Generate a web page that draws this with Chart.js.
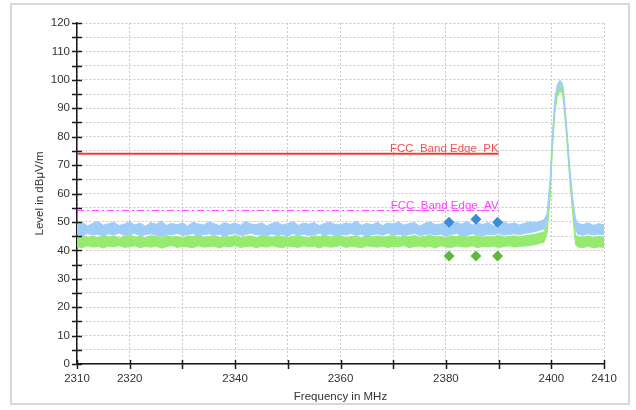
<!DOCTYPE html>
<html>
<head>
<meta charset="utf-8">
<script src="https://cdn.jsdelivr.net/npm/chart.js@4.4.1/dist/chart.umd.min.js"></script>
<style>
body { margin: 0; background: #fff; }
#frame { position: absolute; left: 10px; top: 3px; width: 620px; height: 402px; border: 2px solid #d8d8d8; box-sizing: border-box; }
#wrap { position: absolute; left: 0; top: 0; width: 636px; height: 410px; }
</style>
</head>
<body>
<div id="frame"></div>
<div id="wrap"><canvas id="myChart" width="636" height="410"></canvas></div>
<script>
// frequency points of the traces (MHz)
var freq = [2310, 2311, 2312, 2313, 2314, 2315, 2316, 2317, 2318, 2319,
	2320, 2321, 2322, 2323, 2324, 2325, 2326, 2327, 2328, 2329,
	2330, 2331, 2332, 2333, 2334, 2335, 2336, 2337, 2338, 2339,
	2340, 2341, 2342, 2343, 2344, 2345, 2346, 2347, 2348, 2349,
	2350, 2351, 2352, 2353, 2354, 2355, 2356, 2357, 2358, 2359,
	2360, 2361, 2362, 2363, 2364, 2365, 2366, 2367, 2368, 2369,
	2370, 2371, 2372, 2373, 2374, 2375, 2376, 2377, 2378, 2379,
	2380, 2381, 2382, 2383, 2384, 2385, 2386, 2387, 2388, 2389,
	2390, 2391, 2392, 2393, 2394, 2395, 2396, 2397, 2398,
	2398.6, 2399.2, 2399.8, 2400.2, 2400.7, 2401.1, 2401.6, 2402.0, 2402.3, 2402.9,
	2403.5, 2404.2, 2404.6, 2405, 2406, 2407, 2408, 2409, 2410];

// peak trace (blue), upper / lower edge of the noise band
var peakHi = [49.1, 49.8, 48.6, 49.5, 50.2, 48.8, 49.4, 49.9, 48.7, 49.3,
	50.1, 48.9, 49.6, 48.5, 49.8, 49.2, 50.3, 48.8, 49.5, 49.0,
	49.7, 48.6, 49.9, 49.3, 48.9, 50.0, 49.4, 48.7, 49.8, 49.1,
	49.6, 48.8, 50.2, 49.3, 49.0, 49.7, 48.6, 49.5, 49.9, 48.9,
	49.4, 50.1, 48.8, 49.6, 49.2, 49.8, 48.7, 49.5, 50.0, 49.1,
	48.9, 49.7, 49.3, 50.2, 48.8, 49.5, 49.0, 49.9, 48.7, 49.6,
	49.2, 50.0, 48.9, 49.4, 49.8, 48.6, 49.5, 50.1, 49.0, 49.3,
	49.7, 48.8, 49.9, 49.2, 50.3, 48.9, 49.6, 49.1, 49.8, 48.7,
	49.5, 50.0, 49.2, 49.7, 48.9, 49.6, 50.0, 49.8, 50.3,
	50.8, 53, 66, 81, 93.8, 98.2, 99.8, 99.2, 97.2, 84.3,
	69.2, 56.2, 51.2, 49.6, 49.0, 49.7, 48.8, 49.4, 48.9];
var peakLo = [45.6, 45.1, 45.9, 45.3, 45.7, 45.0, 45.8, 45.4, 46.1, 45.2,
	45.6, 45.9, 45.1, 45.5, 45.8, 45.3, 45.0, 45.7, 45.4, 46.0,
	45.2, 45.6, 45.9, 45.1, 45.5, 45.8, 45.3, 45.7, 45.0, 45.6,
	45.9, 45.2, 45.5, 46.1, 45.4, 45.7, 45.1, 45.8, 45.3, 45.6,
	45.0, 45.9, 45.4, 45.7, 45.2, 45.5, 46.0, 45.3, 45.8, 45.1,
	45.6, 45.4, 45.9, 45.2, 45.7, 45.0, 45.5, 45.8, 45.3, 46.0,
	45.4, 45.7, 45.1, 45.6, 45.9, 45.2, 45.5, 45.8, 45.3, 45.7,
	45.0, 45.6, 45.9, 45.4, 45.2, 45.8, 45.5, 45.1, 45.7, 45.4,
	45.9, 45.3, 45.6, 45.8, 45.5, 46.0, 46.2, 46.6, 47.2,
	47.5, 50.5, 63.5, 78.5, 91.5, 96.5, 98.2, 97.5, 95, 82,
	67, 54, 47.5, 45.6, 45.3, 45.8, 45.4, 45.7, 45.5];

// average trace (green)
var avgHi = [44.8, 45.3, 44.5, 45.0, 44.4, 45.4, 44.7, 45.1, 44.3, 44.9,
	45.5, 44.6, 45.0, 44.4, 45.2, 44.8, 44.5, 45.3, 44.7, 45.0,
	44.3, 45.1, 44.9, 45.4, 44.6, 44.8, 45.2, 44.4, 45.0, 44.7,
	45.3, 44.5, 44.9, 45.1, 44.4, 45.4, 44.8, 44.6, 45.2, 44.9,
	44.5, 45.0, 45.3, 44.7, 44.4, 45.1, 44.8, 45.5, 44.6, 44.9,
	45.2, 44.5, 44.8, 45.0, 44.3, 45.3, 44.7, 45.1, 44.6, 44.9,
	45.4, 44.4, 45.0, 44.8, 45.2, 44.5, 44.9, 45.3, 44.7, 45.0,
	44.4, 45.1, 44.8, 45.4, 44.6, 44.9, 45.2, 44.5, 45.0, 44.7,
	45.3, 44.6, 44.9, 45.1, 44.8, 45.2, 45.4, 45.7, 46.2,
	46.5, 49.5, 62.5, 78, 91, 96, 97.8, 97.2, 94.8, 82.5,
	67.5, 53.5, 45.5, 44.8, 44.6, 45.1, 44.5, 44.9, 44.6];
var avgLo = [41.3, 40.9, 41.6, 41.1, 41.4, 40.8, 41.5, 41.2, 41.7, 41.0,
	41.3, 41.6, 40.9, 41.4, 41.1, 41.5, 40.8, 41.3, 41.7, 41.0,
	41.4, 41.2, 40.9, 41.6, 41.1, 41.3, 41.5, 40.8, 41.4, 41.2,
	41.7, 41.0, 41.3, 41.5, 40.9, 41.4, 41.1, 41.6, 41.2, 40.9,
	41.5, 41.3, 41.0, 41.6, 41.2, 41.4, 40.8, 41.5, 41.1, 41.3,
	41.7, 41.0, 41.4, 41.2, 40.9, 41.6, 41.3, 41.1, 41.5, 41.0,
	41.4, 41.2, 41.7, 40.9, 41.3, 41.5, 41.1, 41.4, 40.8, 41.6,
	41.2, 41.0, 41.5, 41.3, 41.1, 41.6, 40.9, 41.4, 41.2, 41.5,
	41.0, 41.3, 41.6, 41.2, 41.4, 41.5, 41.7, 42.0, 42.6,
	42.8, 46, 59, 75, 88.5, 94, 96, 95.5, 92.5, 80,
	64.5, 50, 42, 41.2, 41.0, 41.4, 40.9, 41.2, 41.1];

// measured points
var markFreq = [2380.6, 2385.7, 2389.8];
var markPk = [49.9, 50.9, 49.9];
var markAv = [38.0, 38.0, 38.0];

// limit lines
var limitNames = ["FCC_Band Edge_PK", "FCC_Band Edge_AV"];
var limitFreq = [2310, 2390];
var limitPk = [74, 74];
var limitAv = [54, 54];

var xLabels = [2310, 2320, 2340, 2360, 2380, 2400, 2410];

function pts(xs, ys) {
	var r = [];
	for (var i = 0; i < xs.length; i++) r.push({x: xs[i], y: ys[i]});
	return r;
}

var decoPlugin = {
	id: "deco",
	afterDraw: function (chart) {
		var ctx = chart.ctx, xs = chart.scales.x, ys = chart.scales.y;
		var a = chart.chartArea;
		ctx.save();
		ctx.strokeStyle = "#1a1a1a";
		ctx.lineWidth = 1.5;
		ctx.beginPath();
		for (var v = 0; v <= 120; v += 5) {
			var py = Math.round(ys.getPixelForValue(v)) + 0.5;
			ctx.moveTo(a.left - 5, py);
			ctx.lineTo(a.left + 5, py);
		}
		for (var f = 2310; f <= 2410; f += 10) {
			var px = Math.round(xs.getPixelForValue(f)) + 0.5;
			ctx.moveTo(px, a.bottom - 4);
			ctx.lineTo(px, a.bottom + 5);
		}
		ctx.stroke();
		// limit line labels
		ctx.font = "11.5px 'Liberation Sans', Arial, sans-serif";
		ctx.textAlign = "right";
		ctx.textBaseline = "alphabetic";
		ctx.fillStyle = "#f05050";
		ctx.fillText(limitNames[0], xs.getPixelForValue(limitFreq[1]), ys.getPixelForValue(limitPk[0]) - 2);
		ctx.fillStyle = "#ff40ff";
		ctx.fillText(limitNames[1], xs.getPixelForValue(limitFreq[1]), ys.getPixelForValue(limitAv[0]) - 2);
		ctx.restore();
	}
};

var font = {family: "'Liberation Sans', Arial, sans-serif", size: 11.5};

new Chart("myChart", {
	type: "line",
	data: {
		datasets: [
			{data: pts(markFreq, markPk), showLine: false, pointStyle: "rectRot", pointRadius: 5.5,
				backgroundColor: "#3d8bd4", borderColor: "#3d8bd4", pointBorderWidth: 0},
			{data: pts(markFreq, markAv), showLine: false, pointStyle: "rectRot", pointRadius: 5.5,
				backgroundColor: "#5cba3a", borderColor: "#5cba3a", pointBorderWidth: 0},
			{data: pts(limitFreq, limitPk), borderColor: "#e8403a", borderWidth: 2, pointRadius: 0},
			{data: pts(limitFreq, limitAv), borderColor: "#ff40ff", borderWidth: 1, borderDash: [7, 3, 2, 3], pointRadius: 0},
			{data: pts(freq, peakHi), borderColor: "#a0ccf8", backgroundColor: "#a0ccf8", borderWidth: 1, pointRadius: 0, fill: "+1"},
			{data: pts(freq, peakLo), borderColor: "#a0ccf8", borderWidth: 1, pointRadius: 0},
			{data: pts(freq, avgHi), borderColor: "#96ea6e", backgroundColor: "#96ea6e", borderWidth: 1, pointRadius: 0, fill: "+1"},
			{data: pts(freq, avgLo), borderColor: "#96ea6e", borderWidth: 1, pointRadius: 0}
		]
	},
	options: {
		responsive: false,
		animation: false,
		layout: {padding: {top: 23, right: 32, bottom: 0, left: 0}},
		plugins: {legend: {display: false}, tooltip: {enabled: false}},
		elements: {line: {tension: 0}},
		scales: {
			x: {
				type: "linear", min: 2310, max: 2410,
				afterFit: function (s) { s.height = 46; },
				ticks: {stepSize: 10, autoSkip: false, maxRotation: 0, padding: 8, color: "#333", font: font,
					callback: function (v) { return xLabels.indexOf(v) >= 0 ? String(v) : ""; }},
				grid: {color: "#c8c8c8", drawTicks: false},
				border: {color: "#1a1a1a", width: 1.5, dash: [2, 2]},
				title: {display: true, text: "Frequency in MHz", color: "#333", font: font, padding: {top: 0, bottom: 6}}
			},
			y: {
				min: 0, max: 120,
				afterFit: function (s) { s.width = 77; },
				ticks: {stepSize: 5, autoSkip: false, padding: 7, color: "#333", font: font,
					callback: function (v) { return v % 10 === 0 ? String(v) : ""; }},
				grid: {color: "#c8c8c8", drawTicks: false},
				border: {color: "#1a1a1a", width: 1.5, dash: [2, 2]},
				title: {display: true, text: "Level in dBμV/m", color: "#333", font: font, padding: {top: 33, bottom: 0}}
			}
		}
	},
	plugins: [decoPlugin]
});
</script>
</body>
</html>
